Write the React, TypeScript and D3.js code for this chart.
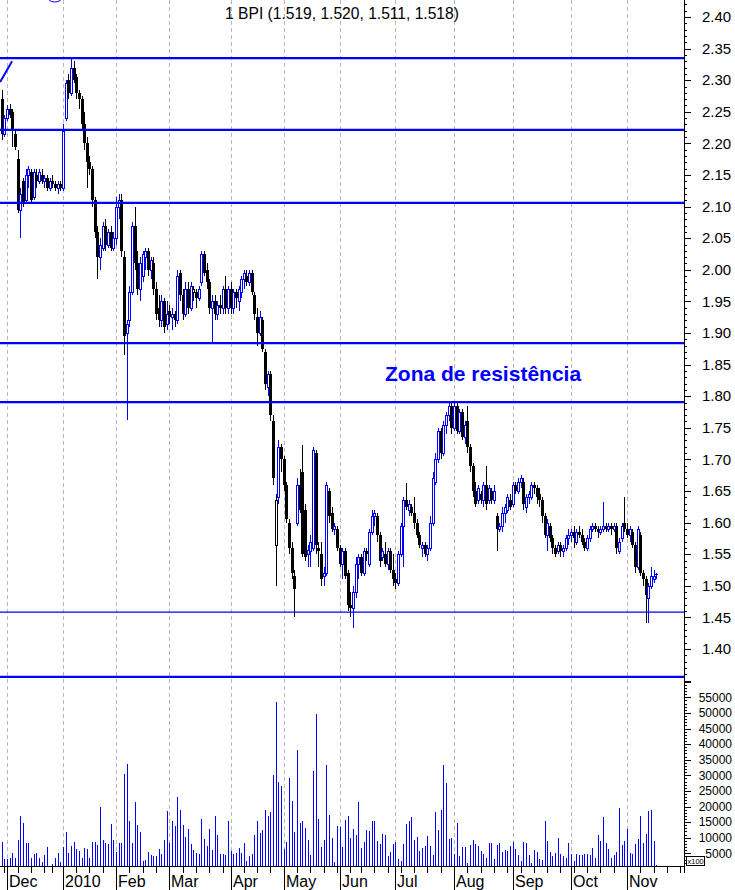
import React from 'react';
import * as d3 from 'd3';

// Daily bars: [open, high, low, close, volume (x100)]
type Bar = [number, number, number, number, number];

const nov09: Bar[] = [
  [2.27, 2.285, 2.205, 2.215, 8700],
  [2.215, 2.245, 2.21, 2.24, 3200],
];
const dec09: Bar[] = [
  [2.24, 2.26, 2.235, 2.255, 3200], [2.255, 2.262, 2.24, 2.245, 3500], [2.25, 2.255, 2.195, 2.22, 5200],
  [2.215, 2.22, 2.19, 2.195, 3500], [2.175, 2.19, 2.09, 2.095, 9400], [2.095, 2.13, 2.05, 2.12, 16800],
  [2.14, 2.145, 2.1, 2.105, 14800], [2.11, 2.16, 2.105, 2.15, 8400], [2.15, 2.165, 2.13, 2.16, 8400],
  [2.155, 2.16, 2.105, 2.11, 3500], [2.115, 2.16, 2.11, 2.155, 4800], [2.15, 2.16, 2.13, 2.14, 5200],
  [2.14, 2.16, 2.135, 2.155, 3500], [2.15, 2.16, 2.135, 2.14, 2300], [2.14, 2.15, 2.13, 2.145, 4500],
  [2.145, 2.15, 2.125, 2.13, 7100], [2.13, 2.145, 2.125, 2.14, 600], [2.14, 2.15, 2.13, 2.135, 1600],
  [2.135, 2.14, 2.125, 2.13, 3500], [2.13, 2.14, 2.12, 2.135, 5200], [2.135, 2.14, 2.125, 2.13, 2300],
];
const jan10: Bar[] = [
  [2.13, 2.23, 2.125, 2.22, 7100], [2.24, 2.3, 2.235, 2.295, 11900], [2.3, 2.31, 2.27, 2.28, 5200],
  [2.28, 2.337, 2.275, 2.32, 7300], [2.32, 2.33, 2.295, 2.3, 8700], [2.305, 2.31, 2.27, 2.28, 6400],
  [2.28, 2.285, 2.255, 2.27, 5800], [2.27, 2.275, 2.22, 2.23, 3500], [2.23, 2.25, 2.19, 2.2, 6800],
  [2.2, 2.21, 2.13, 2.17, 6400], [2.17, 2.18, 2.15, 2.16, 3500], [2.16, 2.165, 2.1, 2.11, 8700],
  [2.11, 2.115, 2.05, 2.06, 8700], [2.06, 2.07, 1.985, 2.02, 7700], [2.02, 2.05, 2.0, 2.04, 20000],
  [2.035, 2.075, 2.03, 2.07, 9400], [2.07, 2.08, 2.03, 2.04, 8400], [2.04, 2.065, 2.035, 2.06, 8100],
  [2.06, 2.07, 2.03, 2.035, 14500], [2.035, 2.06, 2.03, 2.05, 9400],
];
const feb10: Bar[] = [
  [2.05, 2.115, 2.04, 2.1, 5500], [2.1, 2.12, 2.08, 2.11, 8400], [2.11, 2.12, 2.02, 2.03, 8400],
  [2.02, 2.03, 1.865, 1.895, 30300], [1.9, 1.92, 1.762, 1.915, 33500], [1.92, 1.975, 1.91, 1.965, 15200],
  [1.965, 2.075, 1.96, 2.07, 8400], [2.07, 2.1, 2.0, 2.01, 21300], [2.01, 2.03, 1.96, 1.97, 14200],
  [1.97, 2.02, 1.95, 2.01, 11900], [1.99, 2.03, 1.98, 2.025, 2600], [2.02, 2.035, 2.0, 2.03, 3000],
  [2.03, 2.035, 1.99, 2.0, 5500], [2.0, 2.02, 1.985, 2.015, 4500], [2.01, 2.02, 1.96, 1.97, 4200],
  [1.97, 1.98, 1.92, 1.93, 4200], [1.94, 1.96, 1.91, 1.92, 6400], [1.92, 1.96, 1.91, 1.95, 4800],
  [1.95, 1.955, 1.9, 1.91, 9400], [1.915, 1.95, 1.905, 1.93, 18400],
];
const mar10: Bar[] = [
  [1.935, 1.945, 1.915, 1.925, 8400], [1.925, 1.94, 1.905, 1.93, 15500], [1.93, 1.935, 1.91, 1.92, 13900],
  [1.92, 2.0, 1.915, 1.99, 23200], [1.995, 2.0, 1.95, 1.96, 19000], [1.96, 1.97, 1.92, 1.93, 14200],
  [1.93, 1.98, 1.925, 1.97, 10300], [1.97, 1.98, 1.93, 1.94, 12900], [1.94, 1.98, 1.935, 1.975, 8100],
  [1.965, 1.975, 1.95, 1.97, 6100], [1.965, 1.97, 1.94, 1.955, 5200], [1.955, 1.975, 1.95, 1.97, 4800],
  [1.98, 2.03, 1.975, 2.025, 16100], [2.025, 2.03, 1.99, 1.995, 9700], [2.0, 2.01, 1.97, 1.98, 7400],
  [1.98, 1.985, 1.93, 1.94, 12900], [1.94, 1.96, 1.883, 1.95, 6100], [1.95, 1.96, 1.92, 1.93, 16800],
  [1.93, 1.95, 1.92, 1.945, 11000], [1.945, 1.96, 1.93, 1.94, 4800], [1.94, 1.975, 1.93, 1.97, 4800],
  [1.97, 1.99, 1.93, 1.94, 4500], [1.94, 1.975, 1.93, 1.97, 15500],
];
const apr10: Bar[] = [
  [1.97, 1.98, 1.93, 1.94, 5800], [1.94, 1.97, 1.93, 1.965, 4800], [1.965, 1.97, 1.94, 1.955, 5200],
  [1.95, 1.975, 1.935, 1.97, 6800], [1.965, 1.99, 1.955, 1.985, 5200], [1.985, 2.0, 1.97, 1.995, 8400],
  [1.99, 2.0, 1.975, 1.98, 2600], [1.98, 2.0, 1.975, 1.995, 4200], [1.995, 2.0, 1.96, 1.965, 4800],
  [1.96, 1.965, 1.92, 1.93, 11000], [1.925, 1.94, 1.88, 1.9, 15500], [1.9, 1.935, 1.895, 1.925, 11600],
  [1.92, 1.925, 1.87, 1.875, 12600], [1.87, 1.875, 1.81, 1.82, 19000], [1.815, 1.84, 1.8, 1.835, 17100],
  [1.835, 1.84, 1.76, 1.77, 18100], [1.76, 1.77, 1.66, 1.67, 30000], [1.565, 1.645, 1.5, 1.635, 53500],
  [1.64, 1.73, 1.63, 1.72, 27700], [1.72, 1.725, 1.68, 1.7, 26500],
];
const may10: Bar[] = [
  [1.7, 1.705, 1.65, 1.66, 6500], [1.66, 1.665, 1.6, 1.605, 8700], [1.6, 1.605, 1.55, 1.56, 29000],
  [1.56, 1.57, 1.51, 1.52, 21900], [1.515, 1.525, 1.45, 1.495, 11900], [1.6, 1.67, 1.595, 1.66, 38100],
  [1.66, 1.685, 1.615, 1.62, 14800], [1.68, 1.723, 1.545, 1.55, 15500], [1.62, 1.63, 1.54, 1.545, 13200],
  [1.55, 1.565, 1.53, 1.557, 9400], [1.555, 1.58, 1.53, 1.57, 4500], [1.56, 1.72, 1.555, 1.715, 31300],
  [1.71, 1.715, 1.55, 1.565, 49700], [1.56, 1.57, 1.53, 1.555, 16100], [1.55, 1.57, 1.5, 1.51, 7100],
  [1.515, 1.53, 1.5, 1.52, 9400], [1.52, 1.665, 1.515, 1.66, 33200], [1.65, 1.655, 1.6, 1.61, 17400],
  [1.615, 1.625, 1.585, 1.59, 10000], [1.59, 1.6, 1.58, 1.595, 2300], [1.59, 1.595, 1.555, 1.56, 13900],
];
const jun10: Bar[] = [
  [1.56, 1.565, 1.53, 1.535, 13500], [1.535, 1.56, 1.51, 1.555, 7100], [1.555, 1.56, 1.51, 1.515, 15800],
  [1.52, 1.525, 1.46, 1.47, 17100], [1.47, 1.49, 1.45, 1.465, 10000], [1.465, 1.5, 1.433, 1.49, 12900],
  [1.49, 1.545, 1.48, 1.535, 11000], [1.535, 1.55, 1.51, 1.545, 21300], [1.545, 1.55, 1.515, 1.52, 6800],
  [1.52, 1.56, 1.515, 1.555, 8700], [1.555, 1.56, 1.54, 1.55, 12600], [1.535, 1.59, 1.53, 1.585, 12300],
  [1.585, 1.62, 1.58, 1.61, 15200], [1.61, 1.62, 1.595, 1.615, 15200], [1.61, 1.615, 1.57, 1.58, 9000],
  [1.58, 1.585, 1.53, 1.54, 8100], [1.545, 1.56, 1.54, 1.555, 11300], [1.55, 1.57, 1.53, 1.535, 11000],
  [1.535, 1.56, 1.525, 1.555, 4200], [1.555, 1.56, 1.52, 1.525, 5500], [1.525, 1.55, 1.5, 1.51, 8100],
];
const jul10: Bar[] = [
  [1.51, 1.52, 1.495, 1.505, 8700], [1.505, 1.555, 1.5, 1.55, 3200], [1.55, 1.6, 1.545, 1.595, 2600],
  [1.595, 1.64, 1.53, 1.635, 8100], [1.635, 1.663, 1.62, 1.625, 14500], [1.62, 1.635, 1.61, 1.63, 15200],
  [1.625, 1.63, 1.61, 1.615, 16500], [1.615, 1.64, 1.59, 1.6, 9400], [1.6, 1.605, 1.575, 1.58, 10300],
  [1.58, 1.585, 1.56, 1.565, 5800], [1.56, 1.57, 1.545, 1.565, 6800], [1.565, 1.57, 1.545, 1.55, 7400],
  [1.55, 1.565, 1.54, 1.56, 10600], [1.56, 1.61, 1.555, 1.6, 7400], [1.6, 1.68, 1.595, 1.67, 4500],
  [1.665, 1.71, 1.66, 1.7, 18100], [1.7, 1.75, 1.695, 1.745, 12600], [1.745, 1.75, 1.7, 1.71, 19000],
  [1.71, 1.76, 1.705, 1.755, 33200], [1.755, 1.775, 1.74, 1.77, 27400], [1.77, 1.79, 1.76, 1.785, 9700],
  [1.785, 1.79, 1.74, 1.75, 10000],
];
const aug10: Bar[] = [
  [1.75, 1.79, 1.745, 1.785, 4800], [1.785, 1.79, 1.74, 1.745, 14800], [1.745, 1.78, 1.74, 1.775, 4200],
  [1.775, 1.78, 1.73, 1.735, 7100], [1.735, 1.76, 1.725, 1.755, 7100], [1.76, 1.785, 1.71, 1.72, 1900],
  [1.72, 1.725, 1.68, 1.69, 7700], [1.69, 1.695, 1.64, 1.65, 9400], [1.65, 1.665, 1.625, 1.63, 8100],
  [1.635, 1.66, 1.63, 1.655, 7400], [1.645, 1.65, 1.63, 1.635, 5800], [1.635, 1.665, 1.625, 1.66, 4900],
  [1.66, 1.69, 1.62, 1.63, 3500], [1.635, 1.66, 1.63, 1.655, 8400], [1.65, 1.655, 1.63, 1.635, 8400],
  [1.635, 1.66, 1.63, 1.65, 3200], [1.61, 1.615, 1.555, 1.59, 7700], [1.59, 1.6, 1.585, 1.595, 8400],
  [1.595, 1.625, 1.585, 1.615, 5500], [1.615, 1.63, 1.6, 1.625, 6100], [1.62, 1.645, 1.615, 1.64, 5800],
  [1.635, 1.645, 1.62, 1.625, 7400],
];
const sep10: Bar[] = [
  [1.63, 1.665, 1.625, 1.66, 8700], [1.66, 1.665, 1.645, 1.65, 6500], [1.65, 1.67, 1.645, 1.665, 4500],
  [1.665, 1.675, 1.655, 1.67, 2600], [1.665, 1.67, 1.62, 1.63, 8700], [1.625, 1.645, 1.615, 1.64, 8400],
  [1.64, 1.65, 1.63, 1.645, 4500], [1.64, 1.665, 1.635, 1.66, 1900], [1.66, 1.665, 1.645, 1.655, 6100],
  [1.655, 1.66, 1.63, 1.64, 5500], [1.645, 1.655, 1.625, 1.635, 3200], [1.635, 1.64, 1.6, 1.61, 2900],
  [1.61, 1.615, 1.575, 1.58, 15200], [1.58, 1.605, 1.555, 1.6, 9000], [1.595, 1.6, 1.57, 1.575, 5500],
  [1.575, 1.58, 1.55, 1.56, 4200], [1.56, 1.565, 1.545, 1.55, 5200], [1.555, 1.57, 1.55, 1.565, 10000],
  [1.565, 1.57, 1.545, 1.555, 4800], [1.555, 1.565, 1.545, 1.56, 4200], [1.56, 1.58, 1.555, 1.575, 3500],
  [1.575, 1.59, 1.565, 1.58, 8400],
];
const oct10: Bar[] = [
  [1.58, 1.59, 1.57, 1.585, 4800], [1.585, 1.595, 1.56, 1.575, 2600], [1.57, 1.59, 1.565, 1.585, 4800],
  [1.585, 1.595, 1.575, 1.58, 4500], [1.58, 1.59, 1.565, 1.57, 4500], [1.57, 1.575, 1.555, 1.56, 4800],
  [1.56, 1.58, 1.555, 1.575, 4800], [1.575, 1.595, 1.57, 1.59, 4500], [1.59, 1.6, 1.585, 1.595, 6800],
  [1.595, 1.6, 1.585, 1.59, 3500], [1.59, 1.595, 1.575, 1.585, 11000], [1.585, 1.595, 1.58, 1.59, 9000],
  [1.59, 1.633, 1.585, 1.595, 16500], [1.595, 1.6, 1.585, 1.59, 8400], [1.59, 1.6, 1.585, 1.595, 6500],
  [1.595, 1.6, 1.58, 1.59, 3500], [1.59, 1.6, 1.585, 1.595, 4500], [1.595, 1.6, 1.55, 1.56, 5500],
  [1.555, 1.575, 1.55, 1.57, 19400], [1.575, 1.6, 1.57, 1.595, 7700], [1.6, 1.64, 1.585, 1.59, 9000],
];
const nov10: Bar[] = [
  [1.59, 1.6, 1.575, 1.58, 12900], [1.58, 1.595, 1.57, 1.59, 5200], [1.585, 1.59, 1.56, 1.565, 4800],
  [1.565, 1.57, 1.52, 1.53, 8100], [1.53, 1.595, 1.525, 1.59, 9700], [1.58, 1.585, 1.515, 1.52, 16800],
  [1.52, 1.525, 1.5, 1.51, 8400], [1.51, 1.515, 1.441, 1.485, 11300], [1.48, 1.505, 1.441, 1.5, 18400],
  [1.5, 1.53, 1.495, 1.515, 19000], [1.51, 1.525, 1.505, 1.515, 9000], [1.519, 1.52, 1.511, 1.518, 1300],
];

const bars: Bar[] = [
  ...nov09, ...dec09, ...jan10, ...feb10, ...mar10, ...apr10,
  ...may10, ...jun10, ...jul10, ...aug10, ...sep10, ...oct10, ...nov10,
];

// Trading calendar
const FIRST_SESSION = '2009-11-27';
const AXIS_END = '2010-12-01';
const CLOSED_DAYS = ['2009-12-24', '2009-12-25', '2010-01-01', '2010-04-02', '2010-04-05', '2010-06-10'];

// Horizontal support / resistance levels
const levels = [2.335, 2.2215, 2.106, 1.884, 1.7905, 1.4585, 1.356];
const thinLevels = [1.4585];
// Trend line stub (session index, price)
const trendLine: [number, number][] = [[-0.6, 2.297], [3.9, 2.33]];

const priceTicks = d3.range(135, 243).map((v) => v / 100);
const volumeTicks = d3.range(0, 61).map((v) => v * 1000);
const volumeLabels = d3.range(5000, 55001, 5000);

const BLUE = '#0000ff';
const FONT = '"Liberation Sans", Arial, Helvetica, sans-serif';

const W = 735;
const H = 890;
const AXIS_X = 684;
const AXIS_Y = 866;

export default function App() {
  const fmt = d3.utcFormat('%Y-%m-%d');
  const closed = new Set(CLOSED_DAYS);
  const parse = d3.utcParse('%Y-%m-%d');
  const sessions = d3.utcDay
    .range(parse(FIRST_SESSION)!, d3.utcDay.offset(parse(AXIS_END)!, 1))
    .filter((d) => d.getUTCDay() !== 0 && d.getUTCDay() !== 6 && !closed.has(fmt(d)));

  const idxOf = (s: string) => sessions.findIndex((d) => fmt(d) === s);
  const x = d3.scaleLinear().domain([idxOf('2009-12-01'), idxOf('2010-11-01')]).range([7, 627]);
  const y = d3.scaleLinear().domain([1.4, 2.4]).range([649, 17]);
  const yv = d3.scaleLinear().domain([0, 55000]).range([868.9, 697.3]);

  const monthStarts = sessions
    .map((d, i) => ({ d, i }))
    .filter(({ d, i }) => i > 0 && d.getUTCMonth() !== sessions[i - 1].getUTCMonth())
    .filter(({ i }) => x(i) < AXIS_X - 2);
  const weekTicks = sessions
    .map((d, i) => ({ d, i }))
    .filter(({ d, i }) => d.getUTCDay() === 1 && x(i) < AXIS_X);

  const monthLabel = (d: Date) => (d.getUTCMonth() === 0 ? d3.utcFormat('%Y')(d) : d3.utcFormat('%b')(d));

  const last = bars[bars.length - 1];
  const title = `1 BPI (${last[0].toFixed(3)}, ${last[1].toFixed(3)}, ${last[2].toFixed(3)}, ${last[3].toFixed(3)})`;

  const px = (i: number) => Math.round(x(i));
  const line = d3.line<[number, number]>().x((p) => x(p[0])).y((p) => y(p[1]));

  return (
    <svg
      width={W}
      height={H}
      viewBox={`0 0 ${W} ${H}`}
      style={{ position: 'absolute', left: 0, top: 0, background: '#fff', fontFamily: FONT }}
    >
      <rect x={0} y={0} width={W} height={H} fill="#fff" />

      {/* month grid */}
      {monthStarts.map(({ i }) => (
        <line
          key={`g${i}`}
          x1={px(i) + 0.5}
          x2={px(i) + 0.5}
          y1={0}
          y2={AXIS_Y}
          stroke="#b8b8b8"
          strokeDasharray="4 3"
        />
      ))}

      {/* volume */}
      <g shapeRendering="crispEdges">
        {bars.map((b, i) => (
          <line key={`v${i}`} x1={px(i) + 0.5} x2={px(i) + 0.5} y1={yv(b[4])} y2={AXIS_Y} stroke={BLUE} />
        ))}
      </g>

      {/* candles */}
      <g shapeRendering="crispEdges">
        {bars.map((b, i) => {
          const [o, h, l, c] = b;
          const prev = i > 0 ? bars[i - 1][3] : o;
          const col = c >= prev ? BLUE : '#000';
          const cx = px(i);
          const top = Math.round(y(Math.max(o, c)));
          const bot = Math.round(y(Math.min(o, c)));
          const hollow = c > o;
          return (
            <g key={`c${i}`}>
              <line x1={cx + 0.5} x2={cx + 0.5} y1={y(h)} y2={y(l)} stroke={col} />
              {hollow ? (
                <rect x={cx - 0.5} y={top + 0.5} width={2} height={Math.max(1, bot - top)} fill="#fff" stroke={col} />
              ) : (
                <rect x={cx - 1} y={top} width={3} height={Math.max(1, bot - top)} fill={col} />
              )}
            </g>
          );
        })}
      </g>

      {/* levels */}
      {levels.map((v) => (
        <line
          key={`l${v}`}
          x1={0}
          x2={AXIS_X}
          y1={y(v)}
          y2={y(v)}
          stroke={BLUE}
          strokeWidth={thinLevels.includes(v) ? 1.2 : 2.2}
        />
      ))}
      <path d={line(trendLine) || ''} stroke={BLUE} strokeWidth={2} fill="none" />
      <ellipse cx={x(20)} cy={-4} rx={8} ry={6} fill="none" stroke={BLUE} strokeWidth={1} />

      <text x={385} y={381} fill={BLUE} fontSize={21} fontWeight="bold">
        Zona de resistência
      </text>

      <text x={342} y={19} fontSize={15.6} textAnchor="middle" fill="#000">
        {title}
      </text>

      {/* right axis */}
      <g shapeRendering="crispEdges" stroke="#000">
        <line x1={AXIS_X + 0.5} x2={AXIS_X + 0.5} y1={0} y2={AXIS_Y + 7} />
        {priceTicks.map((v) => {
          const major = Math.round(v * 100) % 5 === 0;
          const yy = Math.round(y(v)) + 0.5;
          return <line key={`pt${v}`} x1={AXIS_X} x2={AXIS_X + (major ? 7 : 3)} y1={yy} y2={yy} />;
        })}
        {volumeTicks.map((v) => {
          const major = v % 5000 === 0;
          const yy = Math.round(yv(v)) + 0.5;
          if (yy > AXIS_Y) return null;
          return <line key={`vt${v}`} x1={AXIS_X} x2={AXIS_X + (major ? 7 : 3)} y1={yy} y2={yy} />;
        })}
      </g>
      {priceTicks
        .filter((v) => Math.round(v * 100) % 5 === 0 && v >= 1.4 && v <= 2.4)
        .map((v) => (
          <text key={`pl${v}`} x={702} y={y(v)} dy="0.35em" fontSize={15} fill="#000">
            {v.toFixed(2)}
          </text>
        ))}
      {volumeLabels.map((v) => (
        <text key={`vl${v}`} x={732} y={yv(v)} dy="0.35em" fontSize={12} fill="#000" textAnchor="end">
          {v}
        </text>
      ))}
      <rect x={686.5} y={856.5} width={18} height={9} fill="#fff" stroke="#000" shapeRendering="crispEdges" />
      <text x={687.5} y={864} fontSize={7.5} fill="#000">
        x100
      </text>

      {/* bottom axis */}
      <g shapeRendering="crispEdges" stroke="#000">
        <line x1={0} x2={AXIS_X} y1={AXIS_Y + 0.5} y2={AXIS_Y + 0.5} />
        {weekTicks.map(({ i }) => (
          <line key={`w${i}`} x1={px(i) + 0.5} x2={px(i) + 0.5} y1={AXIS_Y} y2={AXIS_Y + 7} />
        ))}
        {monthStarts.map(({ i }) => (
          <line key={`m${i}`} x1={px(i) + 0.5} x2={px(i) + 0.5} y1={AXIS_Y} y2={H} />
        ))}
      </g>
      {monthStarts.map(({ d, i }) => (
        <text key={`ml${i}`} x={px(i) + 2} y={887} fontSize={16} fill="#000">
          {monthLabel(d)}
        </text>
      ))}
    </svg>
  );
}
